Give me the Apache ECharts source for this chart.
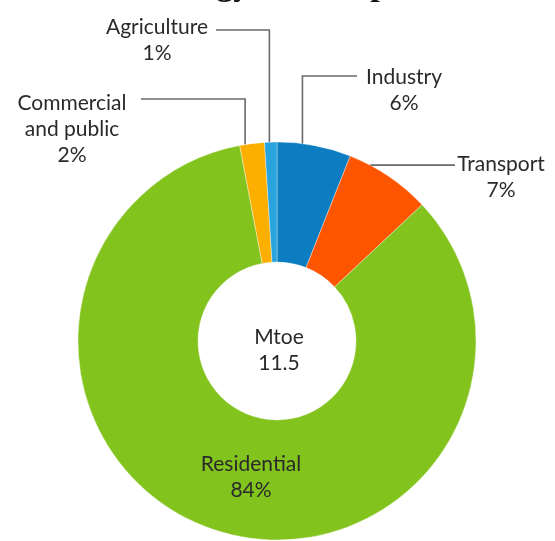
<!DOCTYPE html>
<html>
<head>
<meta charset="utf-8">
<script src="https://cdn.jsdelivr.net/npm/echarts@6/dist/echarts.min.js"></script>
<style>
  html, body { margin: 0; padding: 0; background: #ffffff; }
  #chart { width: 555px; height: 541px; }
</style>
</head>
<body>
<div id="chart"></div>
<script>
// Sector shares of final energy consumption (percent), clockwise from 12 o'clock
const sectors = ['Industry', 'Transport', 'Residential', 'Commercial\nand public', 'Agriculture'];
const shares = [6, 7, 84, 2, 1];
const sectorColors = ['#0b7dc0', '#fe5500', '#82c31d', '#fdaf00', '#27a3dd'];

// Total shown in the hole of the donut
const totalUnit = 'Mtoe';
const totalValue = 11.5;

const chartTitle = 'Final energy consumption';

// Donut geometry
const CENTER = [277, 341];
const RADII = [79, 199];

// Where each label sits and how its leader line is routed
// anchor: position of the leader's start along the slice's outer rim (0..1)
const labelPlacement = [
  { x: 404, y: 90,  anchor: 0.34, elbowY: 76,   endX: 357 },  // Industry
  { x: 501, y: 177, anchor: 0.25, elbowY: null, endX: 455 },  // Transport
  { x: 251, y: 477 },                                         // Residential
  { x: 72,  y: 129, anchor: 0.22, elbowY: 99,   endX: 141 },  // Commercial and public
  { x: 157, y: 40,  anchor: 0.39, elbowY: 30,   endX: 216 }   // Agriculture
];

const total = shares.reduce((a, b) => a + b, 0);
const startShare = [];
shares.reduce((acc, v) => { startShare.push(acc); return acc + v; }, 0);

function rimPoint(i, frac) {
  const deg = (startShare[i] + frac * shares[i]) / total * 360;
  const rad = deg * Math.PI / 180;
  return [CENTER[0] + RADII[1] * Math.sin(rad), CENTER[1] - RADII[1] * Math.cos(rad)];
}

const labelFont = 'Lato, "Open Sans", sans-serif';
const labelSize = 21;
const textColor = '#2a2a2a';

const pieData = sectors.map((name, i) => {
  const item = { name: name, value: shares[i], itemStyle: { color: sectorColors[i] } };
  if (labelPlacement[i].anchor == null) {
    item.labelLine = { show: false };
  }
  return item;
});

const chart = echarts.init(document.getElementById('chart'), null, { renderer: 'canvas' });

chart.setOption({
  backgroundColor: '#ffffff',
  animation: false,
  graphic: [
    {
      type: 'text',
      x: 68,
      y: -14,
      style: {
        text: chartTitle,
        font: 'bold 34px "Liberation Serif", "DejaVu Serif", serif',
        fill: '#111111',
        align: 'left',
        verticalAlign: 'middle'
      }
    },
    {
      type: 'text',
      x: 279,
      y: 350,
      style: {
        text: totalUnit + '\n' + totalValue,
        fontFamily: labelFont,
        fontSize: labelSize,
        lineHeight: 26,
        fill: textColor,
        align: 'center',
        verticalAlign: 'middle'
      }
    }
  ],
  series: [
    {
      type: 'pie',
      center: CENTER,
      radius: RADII,
      startAngle: 90,
      clockwise: true,
      avoidLabelOverlap: false,
      itemStyle: { borderColor: 'rgba(255,255,255,0.6)', borderWidth: 0.6 },
      label: {
        show: true,
        position: 'outside',
        formatter: (p) => p.name + '\n' + p.value + '%',
        fontFamily: labelFont,
        fontSize: labelSize,
        lineHeight: 26,
        color: textColor
      },
      labelLine: {
        show: true,
        lineStyle: { color: '#6a6a6a', width: 1.6 }
      },
      labelLayout: (params) => {
        const i = params.dataIndex;
        const spot = labelPlacement[i];
        const out = { x: spot.x, y: spot.y, align: 'center', verticalAlign: 'middle' };
        if (spot.anchor != null) {
          const a = rimPoint(i, spot.anchor);
          out.labelLinePoints = spot.elbowY == null
            ? [a, [spot.endX, a[1]]]
            : [a, [a[0], spot.elbowY], [spot.endX, spot.elbowY]];
        }
        return out;
      },
      emphasis: { disabled: true },
      data: pieData
    }
  ]
});
</script>
</body>
</html>
